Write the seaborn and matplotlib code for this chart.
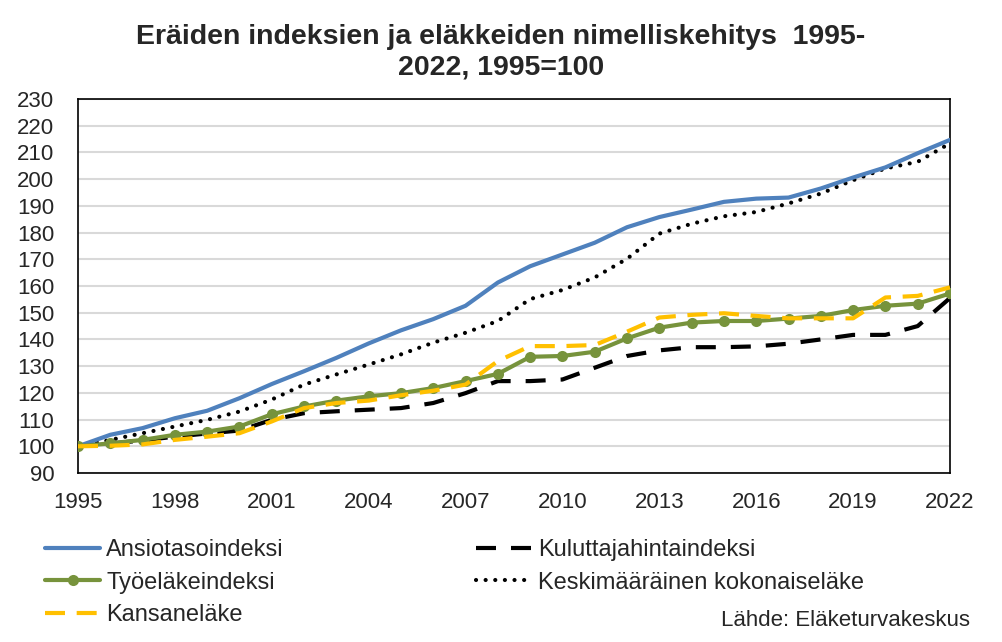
import numpy as np
import pandas as pd
import seaborn as sns
import matplotlib.pyplot as plt

sns.set_theme(style="white")
plt.rcParams['font.family'] = ['Liberation Sans', 'DejaVu Sans']

years = list(range(1995, 2023))

ansiotaso = [100, 104.3, 106.8, 110.5, 113.3, 118.0, 123.3, 128.1, 133.1, 138.5,
             143.4, 147.6, 152.6, 161.3, 167.4, 171.8, 176.2, 182.0, 185.8, 188.6,
             191.5, 192.7, 193.1, 196.5, 200.6, 204.4, 209.7, 214.7]
kuluttaja = [100, 101.0, 102.2, 103.6, 104.8, 105.9, 109.9, 112.4, 113.1, 113.7,
             114.3, 116.2, 119.9, 124.4, 124.4, 125.0, 129.4, 133.8, 135.9, 137.1,
             137.1, 137.4, 138.4, 140.0, 141.7, 141.7, 145.0, 155.5]
tyoelake = [100, 101.1, 102.4, 104.3, 105.5, 107.4, 112.0, 114.9, 117.1, 118.7,
            119.9, 121.8, 124.4, 127.1, 133.5, 133.8, 135.4, 140.4, 144.4, 146.3,
            146.9, 146.9, 147.8, 148.8, 151.0, 152.6, 153.4, 157.2]
keskimaarainen = [100, 102.4, 104.9, 107.4, 109.9, 113.0, 117.5, 123.1, 126.9, 130.6,
                  134.4, 138.8, 142.5, 146.9, 155.1, 158.5, 163.2, 170.2, 179.6, 183.3,
                  186.1, 187.7, 190.9, 194.6, 199.6, 204.0, 206.5, 213.4]
kansanelake = [100, 100.2, 100.7, 102.4, 103.6, 104.9, 109.3, 114.3, 116.2, 117.1,
               119.1, 120.8, 123.1, 131.9, 137.5, 137.5, 137.9, 142.9, 148.2, 149.2,
               149.8, 148.8, 147.9, 147.9, 147.9, 155.7, 156.3, 159.5]

df = pd.DataFrame({
    'Vuosi': years,
    'Ansiotasoindeksi': ansiotaso,
    'Kuluttajahintaindeksi': kuluttaja,
    'Työeläkeindeksi': tyoelake,
    'Keskimääräinen kokonaiseläke': keskimaarainen,
    'Kansaneläke': kansanelake,
})

fig = plt.figure(figsize=(10.02, 6.42), dpi=100)
ax = fig.add_axes([78 / 1002, 1 - 473 / 642, (950 - 78) / 1002, (473 - 99) / 642])

# back to front
sns.lineplot(data=df, x='Vuosi', y='Kuluttajahintaindeksi', ax=ax, color='black',
             lw=3, label='Kuluttajahintaindeksi', zorder=2)
ax.lines[-1].set_dashes([4.8, 3.6])
sns.lineplot(data=df, x='Vuosi', y='Keskimääräinen kokonaiseläke', ax=ax, color='black',
             lw=3, label='Keskimääräinen kokonaiseläke', zorder=3)
ax.lines[-1].set_linestyle((0, (0.01, 2.3)))
ax.lines[-1].set_dash_capstyle('round')
sns.lineplot(data=df, x='Vuosi', y='Ansiotasoindeksi', ax=ax, color='#4F81BD',
             lw=3, label='Ansiotasoindeksi', zorder=4)
sns.lineplot(data=df, x='Vuosi', y='Työeläkeindeksi', ax=ax, color='#77933C',
             lw=3, marker='o', markersize=8, markeredgewidth=0,
             label='Työeläkeindeksi', zorder=5)
sns.lineplot(data=df, x='Vuosi', y='Kansaneläke', ax=ax, color='#FFC000',
             lw=3, label='Kansaneläke', zorder=6)
ax.lines[-1].set_dashes([4.8, 2.8])

ax.set_xlim(1995, 2022)
ax.set_ylim(90, 230)
ax.set_yticks(np.arange(90, 231, 10))
ax.set_xticks(years)
ax.set_xticklabels([str(y) if (y - 1995) % 3 == 0 else '' for y in years])
ax.yaxis.grid(True, color='#D9D9D9', lw=1.5)
ax.set_axisbelow(True)
ax.tick_params(axis='both', which='major', direction='out', length=6, width=1.2,
               color='black', labelsize=16)
ax.tick_params(axis='x', pad=8)
ax.tick_params(axis='y', pad=11)
for s in ax.spines.values():
    s.set_color('black')
    s.set_linewidth(1.2)
ax.set_xlabel('')
ax.set_ylabel('')

fig.text(0.5, 1 - 52 / 642, 'Eräiden indeksien ja eläkkeiden nimelliskehitys  1995-\n2022, 1995=100',
         ha='center', va='center', fontsize=20.5, fontweight='bold', linespacing=1.22)

h, l = ax.get_legend_handles_labels()
order = ['Ansiotasoindeksi', 'Työeläkeindeksi', 'Kansaneläke',
         'Kuluttajahintaindeksi', 'Keskimääräinen kokonaiseläke']
hd = dict(zip(l, h))
ax.legend([hd[k] for k in order], order, ncol=2, frameon=False, fontsize=17,
          loc='upper left', bbox_to_anchor=(45 / 1002, 1 - 539 / 642),
          bbox_transform=fig.transFigure, borderaxespad=0, borderpad=0,
          handlelength=2.35, handletextpad=0.25, columnspacing=8.15, labelspacing=0.45)

fig.text(970 / 1002, 1 - 621 / 642, 'Lähde: Eläketurvakeskus', ha='right', va='center',
         fontsize=16)

fig.savefig('out.png', dpi=100, facecolor='white')
